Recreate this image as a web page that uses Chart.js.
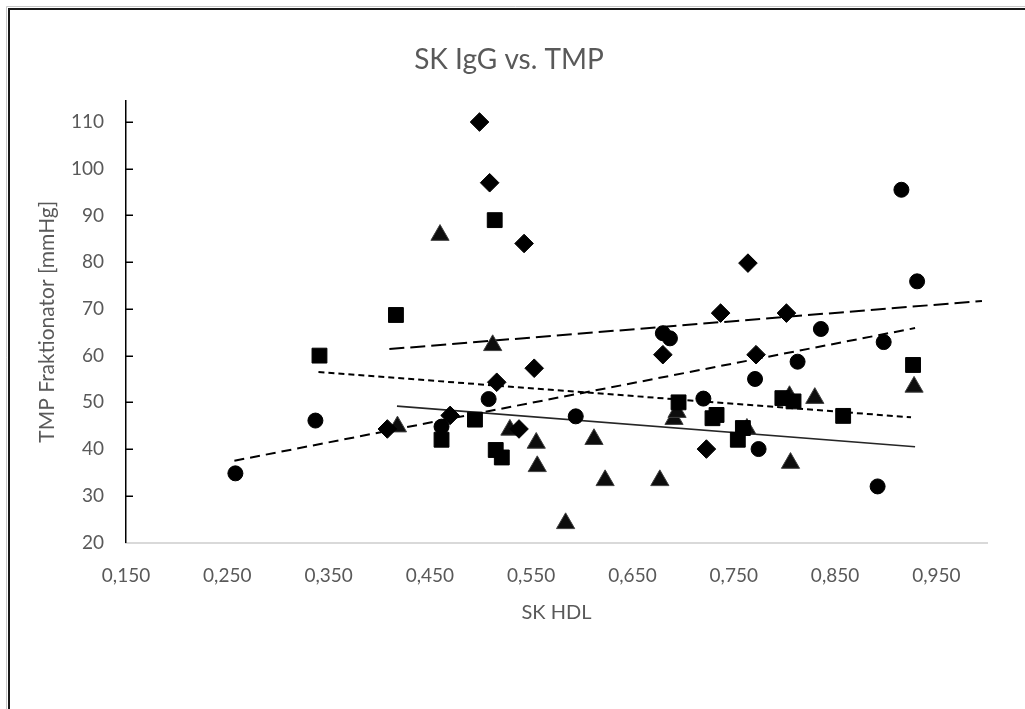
<!DOCTYPE html>
<html>
<head>
<meta charset="utf-8">
<title>SK IgG vs. TMP</title>
<script src="https://cdn.jsdelivr.net/npm/chart.js@4.4.1/dist/chart.umd.min.js"></script>
<style>
  html, body { margin: 0; padding: 0; background: #fff; }
  canvas { display: block; }
</style>
</head>
<body>
<canvas id="tmpChart" width="1025" height="709"></canvas>
<script>
// Axis ticks
const xTicks = [0.15, 0.25, 0.35, 0.45, 0.55, 0.65, 0.75, 0.85, 0.95];
const yTicks = [20, 30, 40, 50, 60, 70, 80, 90, 100, 110];

// Series 1 - diamonds
const diamondX = [0.499, 0.509, 0.543, 0.764, 0.737, 0.802, 0.772, 0.680, 0.553, 0.516, 0.470, 0.408, 0.538, 0.723];
const diamondY = [110.0, 97.0, 84.0, 79.8, 69.1, 69.1, 60.2, 60.2, 57.3, 54.3, 47.2, 44.3, 44.3, 40.0];

// Series 2 - squares
const squareX = [0.341, 0.4165, 0.4615, 0.4945, 0.514, 0.515, 0.521, 0.6955, 0.729, 0.733, 0.754, 0.759, 0.798, 0.809, 0.858, 0.927];
const squareY = [60.0, 68.7, 42.0, 46.3, 89.0, 39.8, 38.2, 50.0, 46.6, 47.3, 42.0, 44.5, 50.9, 50.2, 47.1, 58.0];

// Series 3 - triangles
const triangleX = [0.418, 0.460, 0.512, 0.529, 0.555, 0.556, 0.584, 0.612, 0.623, 0.677, 0.691, 0.694, 0.763, 0.805, 0.806, 0.830, 0.928];
const triangleY = [44.8, 85.8, 62.2, 44.1, 41.3, 36.3, 24.1, 42.1, 33.3, 33.3, 46.4, 47.9, 44.3, 51.3, 37.0, 50.9, 53.3];

// Series 4 - circles
const circleX = [0.258, 0.337, 0.4615, 0.508, 0.594, 0.680, 0.687, 0.720, 0.771, 0.7745, 0.813, 0.836, 0.892, 0.898, 0.9155, 0.931];
const circleY = [34.8, 46.1, 44.8, 50.7, 47.0, 64.8, 63.7, 50.8, 55.0, 40.0, 58.7, 65.7, 32.0, 62.9, 95.5, 75.9];

// Linear trend lines (start / end)
const diamondTrendX = [0.410, 0.995];
const diamondTrendY = [61.4, 71.7];
const squareTrendX = [0.340, 0.925];
const squareTrendY = [56.5, 46.8];
const triangleTrendX = [0.4175, 0.929];
const triangleTrendY = [49.2, 40.5];
const circleTrendX = [0.257, 0.929];
const circleTrendY = [37.5, 65.9];

const toPoints = (xs, ys) => xs.map((x, i) => ({ x: x, y: ys[i] }));

const FONT = "Lato, 'Open Sans', sans-serif";
const GREY = "#595959";

// Frame round the chart and small inside ticks on the y axis
const frameAndTicks = {
  id: "frameAndTicks",
  beforeDraw(chart) {
    const ctx = chart.ctx;
    ctx.save();
    ctx.fillStyle = "#fff";
    ctx.fillRect(0, 0, chart.width, chart.height);
    ctx.strokeStyle = "#c8c8c8";
    ctx.lineWidth = 1;
    ctx.beginPath();
    ctx.moveTo(6.5, chart.height);
    ctx.lineTo(6.5, 6.5);
    ctx.lineTo(chart.width, 6.5);
    ctx.stroke();
    ctx.strokeStyle = "#1a1a1a";
    ctx.lineWidth = 2;
    ctx.beginPath();
    ctx.moveTo(9, chart.height);
    ctx.lineTo(9, 9);
    ctx.lineTo(chart.width, 9);
    ctx.stroke();
    ctx.restore();
  },
  afterDraw(chart) {
    const ctx = chart.ctx;
    const yScale = chart.scales.y;
    const left = chart.chartArea.left;
    ctx.save();
    ctx.strokeStyle = "#000";
    ctx.lineWidth = 1.5;
    yTicks.forEach((v) => {
      if (v === yTicks[0]) return;
      const py = Math.round(yScale.getPixelForValue(v)) + 0.25;
      ctx.beginPath();
      ctx.moveTo(left, py);
      ctx.lineTo(left + 7, py);
      ctx.stroke();
    });
    ctx.restore();
  },
};

const markerBase = {
  type: "scatter",
  backgroundColor: "#000",
  borderColor: "#000",
  borderWidth: 1,
  order: 0,
};

const trendBase = {
  type: "line",
  showLine: true,
  fill: false,
  pointRadius: 0,
  borderColor: "#000",
  borderWidth: 2,
  tension: 0,
  order: 1,
};

new Chart(document.getElementById("tmpChart"), {
  type: "scatter",
  data: {
    datasets: [
      { ...trendBase, label: "Trend 1", data: toPoints(diamondTrendX, diamondTrendY), borderDash: [15, 6] },
      { ...trendBase, label: "Trend 2", data: toPoints(squareTrendX, squareTrendY), borderDash: [6, 4] },
      { ...trendBase, label: "Trend 3", data: toPoints(triangleTrendX, triangleTrendY), borderColor: "#262626", borderWidth: 1.6 },
      { ...trendBase, label: "Trend 4", data: toPoints(circleTrendX, circleTrendY), borderDash: [10, 6] },
      { ...markerBase, label: "Serie 1", data: toPoints(diamondX, diamondY), pointStyle: "rectRot", pointRadius: 9.3 },
      { ...markerBase, label: "Serie 2", data: toPoints(squareX, squareY), pointStyle: "rect", pointRadius: 10.5 },
      { ...markerBase, label: "Serie 3", data: toPoints(triangleX, triangleY), pointStyle: "triangle", pointRadius: 10.5, backgroundColor: "#0d0d0d", borderColor: "#404040" },
      { ...markerBase, label: "Serie 4", data: toPoints(circleX, circleY), pointStyle: "circle", pointRadius: 7.5 },
    ],
  },
  options: {
    responsive: false,
    animation: false,
    events: [],
    layout: { padding: { left: 31, right: 38, top: 0, bottom: 80 } },
    plugins: {
      legend: { display: false },
      tooltip: { enabled: false },
      title: {
        display: true,
        text: "SK IgG vs. TMP",
        color: GREY,
        font: { family: FONT, size: 28, weight: "normal" },
        padding: { top: 43, bottom: 24.4 },
      },
    },
    scales: {
      x: {
        type: "linear",
        min: 0.15,
        max: 1.0,
        afterBuildTicks: (s) => { s.ticks = xTicks.map((v) => ({ value: v })); },
        afterFit: (s) => { s.height = 86.5; },
        grid: { display: true, drawOnChartArea: false, drawTicks: false },
        border: { display: true, color: "#d9d9d9", width: 2 },
        ticks: {
          color: GREY,
          padding: 22,
          font: { family: FONT, size: 19 },
          callback: (v) => v.toFixed(3).replace(".", ","),
        },
        title: {
          display: true,
          text: "SK HDL",
          color: GREY,
          font: { family: FONT, size: 20 },
        },
      },
      y: {
        type: "linear",
        min: 20,
        max: 114.5,
        afterBuildTicks: (s) => { s.ticks = yTicks.map((v) => ({ value: v })); },
        afterFit: (s) => { s.width = 95; },
        grid: { display: true, drawOnChartArea: false, drawTicks: false },
        border: { display: true, color: "#000", width: 1.5 },
        ticks: {
          color: GREY,
          padding: 22,
          font: { family: FONT, size: 19 },
          callback: (v) => String(v),
        },
        title: {
          display: true,
          text: "TMP Fraktionator [mmHg]",
          color: GREY,
          font: { family: FONT, size: 21 },
        },
      },
    },
  },
  plugins: [frameAndTicks],
});
</script>
</body>
</html>
